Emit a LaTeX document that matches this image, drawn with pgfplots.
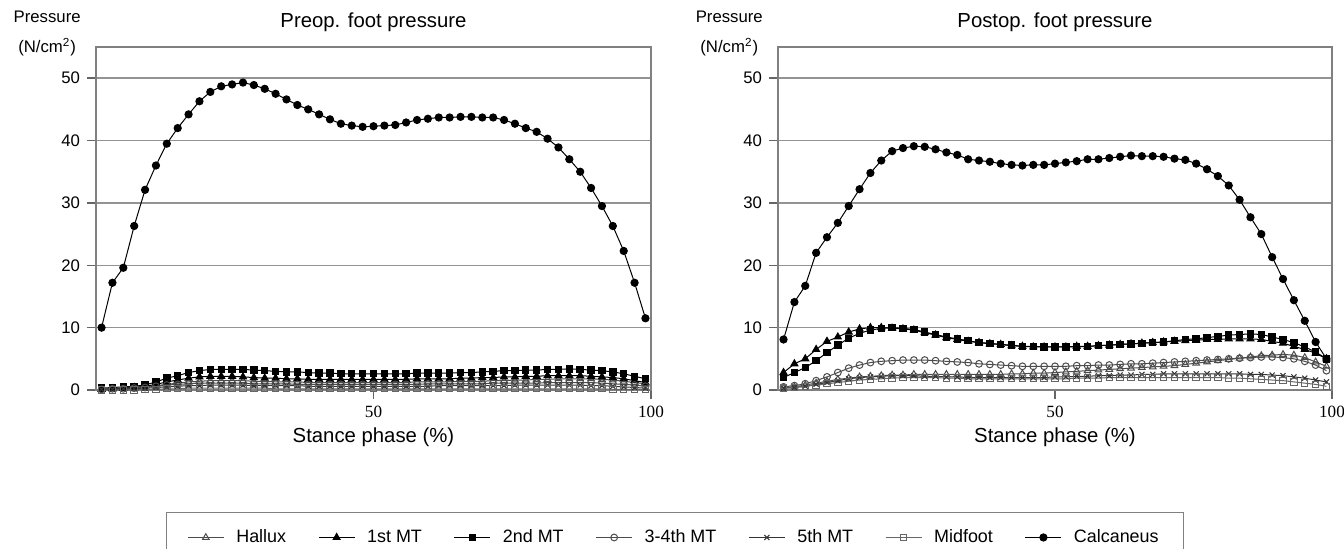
\documentclass[border=0pt]{standalone}
\usepackage{pgfplots}
\usepackage{pgfplotstable}
\pgfplotsset{compat=1.18}
\usepackage{fontspec}
\setmainfont{Liberation Sans}
\newfontfamily\tickserif{Liberation Serif}

% stance phase (%), pressure (N/cm^2) per region
\pgfplotstableread{
x hal mt1 mt2 mt34 mt5 mid cal
1.00 0.1 0.1 0.3 0.1 0.1 0.0 10.0
2.96 0.2 0.2 0.4 0.2 0.1 0.0 17.2
4.92 0.3 0.3 0.5 0.2 0.2 0.0 19.6
6.88 0.4 0.4 0.6 0.3 0.2 0.0 26.3
8.84 0.5 0.6 0.8 0.4 0.3 0.1 32.1
10.80 0.7 0.9 1.3 0.6 0.4 0.1 36.0
12.76 0.9 1.3 1.9 0.8 0.5 0.2 39.5
14.72 1.1 1.6 2.3 0.9 0.6 0.2 42.0
16.68 1.3 1.9 2.8 1.0 0.7 0.3 44.2
18.64 1.4 2.1 3.1 1.1 0.7 0.3 46.3
20.60 1.5 2.2 3.3 1.1 0.8 0.3 47.8
22.56 1.5 2.2 3.3 1.1 0.8 0.3 48.7
24.52 1.5 2.2 3.3 1.1 0.8 0.3 49.0
26.48 1.5 2.1 3.3 1.1 0.8 0.3 49.3
28.44 1.4 2.0 3.2 1.0 0.7 0.3 48.9
30.40 1.4 1.9 3.1 1.0 0.7 0.3 48.3
32.36 1.3 1.9 3.0 1.0 0.7 0.2 47.5
34.32 1.3 1.8 2.9 1.0 0.7 0.2 46.6
36.28 1.3 1.8 2.9 0.9 0.7 0.2 45.7
38.24 1.2 1.7 2.8 0.9 0.6 0.2 45.0
40.20 1.2 1.7 2.7 0.9 0.6 0.2 44.2
42.16 1.2 1.7 2.7 0.9 0.6 0.2 43.4
44.12 1.2 1.7 2.6 0.9 0.6 0.2 42.7
46.08 1.2 1.7 2.6 0.9 0.6 0.2 42.4
48.04 1.2 1.7 2.6 0.9 0.6 0.2 42.2
50.00 1.2 1.7 2.6 0.9 0.6 0.2 42.3
51.96 1.2 1.7 2.6 0.9 0.6 0.2 42.4
53.92 1.2 1.7 2.6 0.9 0.6 0.2 42.5
55.88 1.2 1.7 2.6 0.9 0.6 0.2 42.9
57.84 1.3 1.8 2.7 0.9 0.6 0.2 43.3
59.80 1.3 1.8 2.7 1.0 0.6 0.2 43.5
61.76 1.3 1.8 2.7 1.0 0.7 0.2 43.7
63.72 1.3 1.8 2.7 1.0 0.7 0.2 43.7
65.68 1.4 1.9 2.8 1.0 0.7 0.2 43.8
67.64 1.4 1.9 2.8 1.0 0.7 0.2 43.8
69.60 1.4 2.0 2.9 1.0 0.7 0.2 43.7
71.56 1.5 2.0 3.0 1.1 0.7 0.2 43.7
73.52 1.5 2.1 3.1 1.1 0.7 0.2 43.3
75.48 1.6 2.1 3.1 1.1 0.8 0.2 42.7
77.44 1.6 2.2 3.2 1.1 0.8 0.2 42.0
79.40 1.7 2.2 3.2 1.1 0.8 0.2 41.4
81.36 1.7 2.3 3.3 1.2 0.8 0.2 40.3
83.32 1.8 2.3 3.3 1.2 0.8 0.2 38.9
85.28 1.8 2.3 3.4 1.2 0.8 0.2 37.0
87.24 1.8 2.3 3.3 1.2 0.8 0.2 35.0
89.20 1.8 2.2 3.2 1.2 0.7 0.2 32.4
91.16 1.7 2.1 3.1 1.1 0.7 0.2 29.5
93.12 1.6 2.0 2.9 1.0 0.6 0.1 26.3
95.08 1.4 1.8 2.6 0.9 0.5 0.1 22.3
97.04 1.2 1.5 2.2 0.8 0.4 0.1 17.2
99.00 1.0 1.2 1.8 0.6 0.3 0.1 11.5
}\preop

\pgfplotstableread{
x hal mt1 mt2 mt34 mt5 mid cal
1.00 0.3 2.8 2.0 0.5 0.3 0.3 8.1
2.96 0.5 4.2 2.8 0.7 0.4 0.4 14.1
4.92 0.8 5.0 3.6 1.0 0.6 0.6 16.7
6.88 1.1 6.5 4.7 1.5 0.9 0.8 22.0
8.84 1.4 7.8 6.0 2.1 1.2 1.0 24.5
10.80 1.7 8.5 7.2 2.8 1.5 1.2 26.8
12.76 1.9 9.3 8.3 3.5 1.8 1.4 29.5
14.72 2.1 9.8 9.1 4.0 2.0 1.6 32.2
16.68 2.2 10.0 9.6 4.4 2.1 1.7 34.8
18.64 2.3 10.0 9.9 4.6 2.2 1.8 36.8
20.60 2.4 9.9 10.0 4.7 2.3 1.9 38.3
22.56 2.4 9.8 9.9 4.8 2.3 2.0 38.8
24.52 2.5 9.6 9.7 4.8 2.3 2.0 39.1
26.48 2.5 9.2 9.3 4.8 2.2 2.0 39.0
28.44 2.5 8.8 8.9 4.7 2.2 2.0 38.6
30.40 2.5 8.4 8.5 4.6 2.1 1.9 38.1
32.36 2.5 8.1 8.2 4.5 2.1 1.9 37.7
34.32 2.5 7.8 7.9 4.4 2.0 1.8 37.0
36.28 2.5 7.6 7.6 4.2 2.0 1.8 36.8
38.24 2.5 7.4 7.5 4.1 2.0 1.8 36.6
40.20 2.5 7.3 7.3 4.0 2.0 1.8 36.3
42.16 2.6 7.1 7.2 3.9 2.0 1.8 36.1
44.12 2.6 7.0 7.0 3.8 2.0 1.8 36.0
46.08 2.7 6.9 7.0 3.8 2.0 1.8 36.1
48.04 2.7 6.9 6.9 3.8 2.0 1.8 36.1
50.00 2.8 6.9 6.9 3.8 2.1 1.8 36.3
51.96 2.9 6.9 6.9 3.8 2.1 1.8 36.5
53.92 3.0 7.0 6.9 3.9 2.2 1.9 36.7
55.88 3.1 7.0 7.0 3.9 2.2 1.9 37.0
57.84 3.2 7.1 7.1 4.0 2.3 1.9 37.0
59.80 3.3 7.2 7.2 4.0 2.3 2.0 37.2
61.76 3.4 7.3 7.3 4.1 2.4 2.0 37.4
63.72 3.5 7.4 7.4 4.2 2.4 2.0 37.6
65.68 3.6 7.5 7.5 4.2 2.5 2.0 37.5
67.64 3.7 7.6 7.6 4.3 2.5 2.0 37.5
69.60 3.8 7.7 7.7 4.4 2.6 2.0 37.4
71.56 3.9 7.8 7.9 4.5 2.6 2.0 37.1
73.52 4.1 7.9 8.1 4.6 2.6 2.0 36.9
75.48 4.3 8.0 8.2 4.7 2.6 2.0 36.3
77.44 4.5 8.1 8.4 4.8 2.6 2.0 35.4
79.40 4.7 8.1 8.6 4.9 2.6 2.0 34.3
81.36 4.9 8.2 8.8 5.0 2.6 1.9 32.8
83.32 5.1 8.2 8.9 5.1 2.6 1.9 30.5
85.28 5.3 8.2 9.0 5.2 2.5 1.8 27.7
87.24 5.5 8.1 8.9 5.3 2.5 1.7 25.0
89.20 5.6 7.8 8.5 5.3 2.4 1.6 21.3
91.16 5.7 7.5 8.1 5.2 2.3 1.5 17.8
93.12 5.6 7.0 7.6 5.0 2.1 1.3 14.4
95.08 5.2 6.5 6.9 4.6 1.9 1.1 11.1
97.04 4.5 5.9 6.1 4.0 1.6 0.9 7.7
99.00 3.8 5.0 5.0 3.1 1.3 0.6 5.0
}\postop

\pgfplotsset{
  footaxis/.style={
    scale only axis, width=277.5bp, height=171.5bp,
    xmin=0, xmax=100, ymin=0, ymax=55,
    xtick={50,100}, ytick={0,10,...,50},
    tick pos=left, tick align=outside, major tick length=4.5bp,
    ymajorgrids, grid style={gray!85, line width=0.7bp},
    axis line style={gray, line width=0.7bp},
    tick style={gray!80!black, line width=0.7bp},
    yticklabel style={font=\fontsize{8.4}{10}\selectfont, /pgf/number format/assume math mode=true},
    xticklabel style={font=\tickserif\fontsize{8.6}{10}\selectfont, /pgf/number format/assume math mode=true},
    every axis title shift=0pt,
    title style={font=\fontsize{10.2}{12}\selectfont, at={(axis description cs:0.5,1)}, anchor=center, yshift=12.5bp},
    xlabel={Stance phase (\%)},
    xlabel style={font=\fontsize{10.2}{12}\selectfont, at={(axis description cs:0.5,0)}, anchor=center, yshift=-23.5bp},
    ylabel={Pressure\\(N/cm\textsuperscript{2})},
    ylabel style={rotate=-90, align=center, font=\fontsize{8.4}{15}\selectfont, at={(axis description cs:-0.088,1.04)}, anchor=center},
    every axis plot/.append style={line width=0.5bp},
  },
  hal/.style={black!70, mark=triangle, mark size=1.9bp, mark options={fill=white}},
  mta/.style={black, mark=triangle*, mark size=2bp},
  mtb/.style={black, mark=square*, mark size=1.6bp},
  mtc/.style={black!70, mark=o, mark size=1.7bp, mark options={fill=white}},
  mtd/.style={black!80, mark=x, mark size=1.8bp},
  mdf/.style={black!60, mark=square, mark size=1.6bp, mark options={fill=white}},
  cal/.style={black, mark=*, mark size=1.8bp},
}

\begin{document}
\begin{tikzpicture}
\begin{axis}[footaxis, at={(48bp,-195bp)}, anchor=south west,
  title={Preop. foot pressure},
  legend columns=7,
  legend style={at={(0.126,-0.356)}, anchor=north west, draw=gray,
    font=\fontsize{9}{11}\selectfont, inner xsep=10.5bp, inner ysep=6.5bp,
    /tikz/every odd column/.append style={column sep=4bp},
    /tikz/every even column/.append style={column sep=14bp}},
  legend image code/.code={\draw[mark repeat=2,mark phase=2] plot coordinates {(0bp,0bp) (9bp,0bp) (18bp,0bp)};},
]
\addplot[hal] table[x=x, y=hal] {\preop};
\addplot[mta] table[x=x, y=mt1] {\preop};
\addplot[mtb] table[x=x, y=mt2] {\preop};
\addplot[mtc] table[x=x, y=mt34] {\preop};
\addplot[mtd] table[x=x, y=mt5] {\preop};
\addplot[mdf] table[x=x, y=mid] {\preop};
\addplot[cal] table[x=x, y=cal] {\preop};
\legend{Hallux, 1st MT, 2nd MT, 3-4th MT, 5th MT, Midfoot, Calcaneus}
\end{axis}
\begin{axis}[footaxis, at={(389bp,-195bp)}, anchor=south west, width=277bp,
  title={Postop. foot pressure},
]
\addplot[hal] table[x=x, y=hal] {\postop};
\addplot[mta] table[x=x, y=mt1] {\postop};
\addplot[mtb] table[x=x, y=mt2] {\postop};
\addplot[mtc] table[x=x, y=mt34] {\postop};
\addplot[mtd] table[x=x, y=mt5] {\postop};
\addplot[mdf] table[x=x, y=mid] {\postop};
\addplot[cal] table[x=x, y=cal] {\postop};
\end{axis}
\pgfresetboundingbox
\useasboundingbox (0,0) rectangle (672bp,-274.5bp);
\end{tikzpicture}
\end{document}
